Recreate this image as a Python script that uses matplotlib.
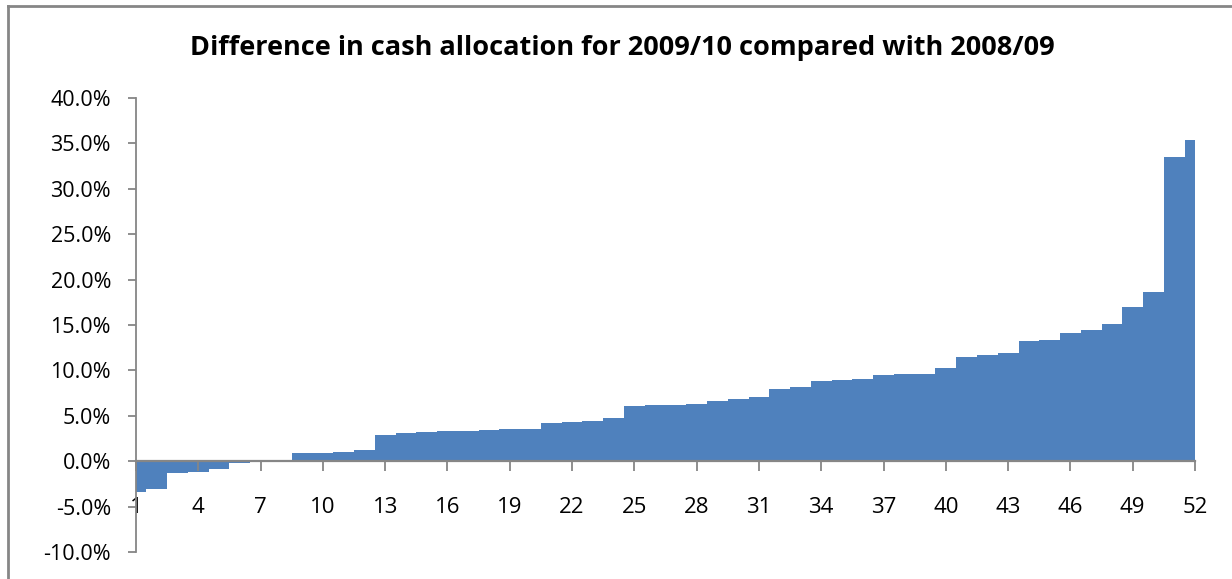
import matplotlib
matplotlib.use("Agg")
import matplotlib.pyplot as plt
from matplotlib.lines import Line2D
from matplotlib.ticker import FuncFormatter, MultipleLocator

# Data (percent difference, sorted ascending), categories 1..52
categories = list(range(1, 53))
values = [-3.4, -3.1, -1.35, -1.2, -0.85, -0.15, 0.05, 0.1, 0.9, 0.95,
          1.05, 1.2, 2.9, 3.1, 3.25, 3.3, 3.3, 3.4, 3.5, 3.6,
          4.2, 4.3, 4.45, 4.75, 6.1, 6.15, 6.2, 6.3, 6.65, 6.8,
          7.05, 8.0, 8.2, 8.85, 8.95, 9.0, 9.45, 9.55, 9.6, 10.3,
          11.45, 11.75, 11.9, 13.2, 13.4, 14.15, 14.4, 15.1, 17.0, 18.6,
          33.5, 35.4]
xtick_labels = list(range(1, 53, 3))
title = "Difference in cash allocation for 2009/10 compared with 2008/09"

plt.rcParams['font.family'] = ['Open Sans', 'DejaVu Sans']

W, H = 1232, 579
fig = plt.figure(figsize=(W / 100, H / 100), dpi=100)
ax = fig.add_axes([136 / W, 1 - 552 / H, (1195 - 136) / W, (552 - 98) / H])

ax.bar(categories, values, width=1.0, color='#4F81BD', linewidth=0)
ax.set_xlim(1, 52)
ax.set_ylim(-10, 40)

grey = '#868686'
for s in ['top', 'right']:
    ax.spines[s].set_visible(False)
ax.spines['left'].set_color(grey)
ax.spines['left'].set_linewidth(1.3)
ax.spines['bottom'].set_position(('data', 0))
ax.spines['bottom'].set_color(grey)
ax.spines['bottom'].set_linewidth(1.6)

ax.yaxis.set_major_locator(MultipleLocator(5))
ax.yaxis.set_major_formatter(FuncFormatter(lambda v, p: f"{v:.1f}%"))
ax.set_xticks(xtick_labels)
ax.set_xticklabels([str(v) for v in xtick_labels])

ax.tick_params(axis='y', direction='out', length=6, width=1.3, color=grey,
               labelsize=15.5, pad=12, labelcolor='black')
ax.tick_params(axis='x', direction='out', length=7, width=1.3, color=grey,
               labelsize=16, pad=19, labelcolor='black')

fig.text(622 / W, 1 - 55 / H, title, ha='center', va='baseline',
         fontsize=19.5, fontweight='bold')

# chart area border (left and top visible)
fig.add_artist(Line2D([8 / W, 8 / W], [0, 1 - 5.5 / H], transform=fig.transFigure,
                      color=grey, linewidth=2))
fig.add_artist(Line2D([8 / W, 1], [1 - 5.5 / H, 1 - 5.5 / H], transform=fig.transFigure,
                      color=grey, linewidth=2))

fig.savefig("out.png", dpi=100)
